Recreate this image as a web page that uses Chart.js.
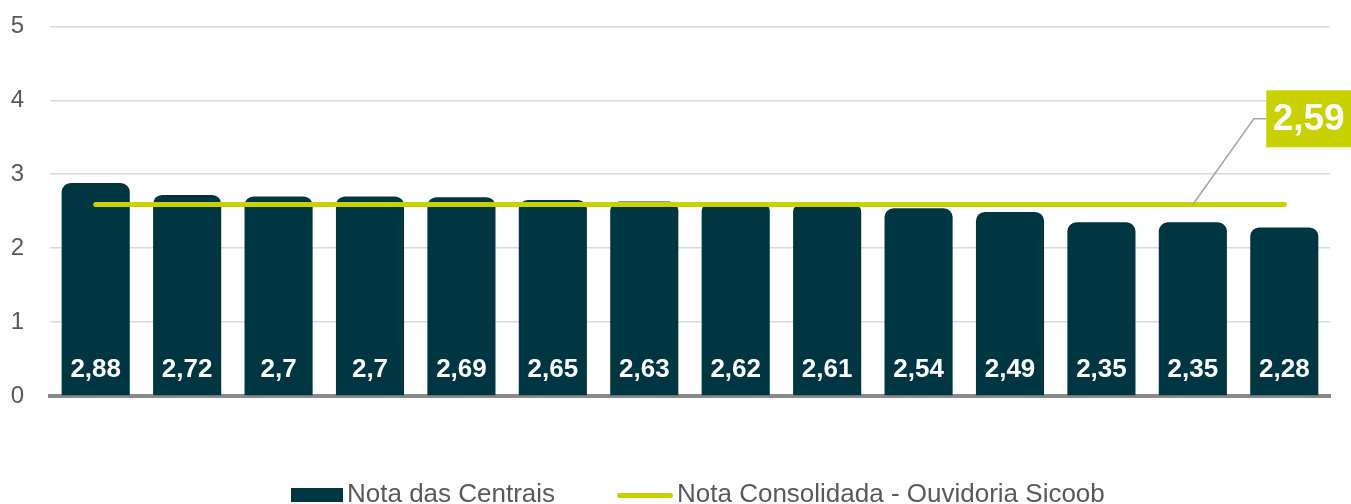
<!DOCTYPE html>
<html>
<head>
<meta charset="utf-8">
<script src="https://cdn.jsdelivr.net/npm/chart.js@4.4.1/dist/chart.umd.min.js"></script>
<style>
  html, body { margin: 0; padding: 0; background: #fff; }
  #wrap { position: relative; width: 1351px; height: 504px; overflow: hidden; }
  #chart { position: absolute; left: 0; top: -14px; }
  #legend {
    position: absolute; left: 0; top: 479px; width: 1351px;
    font: 26px "Liberation Sans", Arial, sans-serif; color: #595959;
  }
  .item { position: absolute; top: 0; white-space: nowrap; line-height: 28px; }
  .box { display: inline-block; vertical-align: middle; margin-right: 4px; }
</style>
</head>
<body>
<div id="wrap">
  <canvas id="chart" width="1351" height="518"></canvas>
  <div id="legend">
    <div class="item" style="left:291px"><span class="box" style="width:52px;height:14px;background:#003641"></span>Nota das Centrais</div>
    <div class="item" style="left:617px"><span class="box" style="width:56px;height:5px;background:#c9d200;border-radius:3px"></span>Nota Consolidada - Ouvidoria Sicoob</div>
  </div>
</div>
<script>
const categories = ["1", "2", "3", "4", "5", "6", "7", "8", "9", "10", "11", "12", "13", "14"];
const notaCentrais = [2.88, 2.72, 2.7, 2.7, 2.69, 2.65, 2.63, 2.62, 2.61, 2.54, 2.49, 2.35, 2.35, 2.28];
const notaConsolidada = 2.59;
const yTicks = [0, 1, 2, 3, 4, 5];

const fmt = (v) => String(v).replace(".", ",");

const barLabels = {
  id: "barLabels",
  afterDatasetsDraw(chart) {
    const { ctx } = chart;
    const meta = chart.getDatasetMeta(0);
    const y = chart.scales.y.getPixelForValue(0) - 26;
    ctx.save();
    ctx.fillStyle = "#ffffff";
    ctx.font = "bold 26px 'Liberation Sans', Arial, sans-serif";
    ctx.textAlign = "center";
    ctx.textBaseline = "middle";
    meta.data.forEach((bar, i) => {
      ctx.fillText(fmt(notaCentrais[i]), bar.x, y);
    });
    ctx.restore();
  },
};

const callout = {
  id: "callout",
  afterDraw(chart) {
    const { ctx, scales: { x, y } } = chart;
    const px = x.getPixelForValue(12);
    const py = y.getPixelForValue(notaConsolidada);
    const boxLeft = x.getPixelForValue(13) - 18;
    const boxTop = y.getPixelForValue(4) - 10;
    const boxH = 57;
    const midY = boxTop + boxH / 2;
    ctx.save();
    ctx.strokeStyle = "#a6a6a6";
    ctx.lineWidth = 1.5;
    ctx.beginPath();
    ctx.moveTo(px, py);
    ctx.lineTo(px + 61, midY);
    ctx.lineTo(boxLeft, midY);
    ctx.stroke();
    ctx.fillStyle = "#c9d200";
    ctx.fillRect(boxLeft, boxTop, chart.width - boxLeft, boxH);
    ctx.fillStyle = "#ffffff";
    ctx.font = "bold 37px 'Liberation Sans', Arial, sans-serif";
    ctx.textAlign = "center";
    ctx.textBaseline = "middle";
    ctx.fillText(fmt(notaConsolidada), (boxLeft + chart.width) / 2, midY + 1);
    ctx.restore();
  },
};

new Chart(document.getElementById("chart"), {
  data: {
    labels: categories,
    datasets: [
      {
        type: "bar",
        label: "Nota das Centrais",
        data: notaCentrais,
        backgroundColor: "#003641",
        borderRadius: { topLeft: 9, topRight: 9 },
        borderSkipped: "bottom",
        barPercentage: 0.745,
        categoryPercentage: 1,
        order: 1,
      },
      {
        type: "line",
        label: "Nota Consolidada - Ouvidoria Sicoob",
        data: categories.map(() => notaConsolidada),
        borderColor: "#c9d200",
        borderWidth: 5,
        borderCapStyle: "round",
        pointRadius: 0,
        order: 0,
      },
    ],
  },
  options: {
    responsive: false,
    animation: false,
    layout: { padding: { top: 14, right: 21, bottom: 108, left: 0 } },
    plugins: {
      legend: { display: false },
      tooltip: { enabled: false },
    },
    scales: {
      x: {
        ticks: { display: false },
        grid: { display: false },
        border: { color: "#898989", width: 4 },
        afterFit(scale) { scale.height = 0; },
      },
      y: {
        min: 0,
        max: 5,
        afterBuildTicks(scale) { scale.ticks = yTicks.map((v) => ({ value: v })); },
        ticks: {
          padding: 26,
          color: "#595959",
          font: { family: "'Liberation Sans', Arial, sans-serif", size: 24 },
        },
        grid: { color: "#d9d9d9", lineWidth: 1.5, drawTicks: false },
        border: { display: false },
        afterFit(scale) { scale.width = 50; },
      },
    },
  },
  plugins: [barLabels, callout],
});
</script>
</body>
</html>
